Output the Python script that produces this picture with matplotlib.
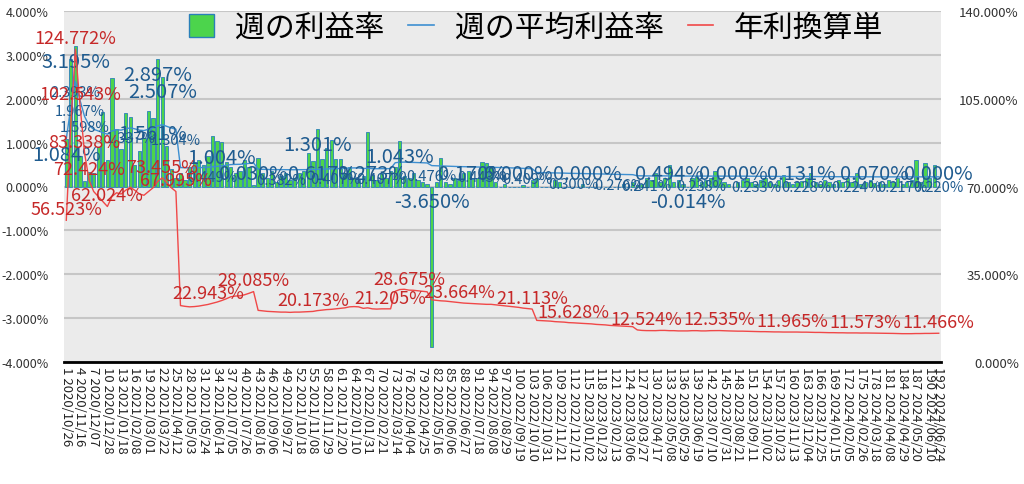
import datetime
import matplotlib
matplotlib.use("Agg")
import matplotlib.pyplot as plt
from matplotlib.patches import Patch
from matplotlib.lines import Line2D

plt.rcParams['font.family'] = ['Noto Sans CJK JP', 'DejaVu Sans']

# weekly profit rate (%), weeks 1..192
weekly = [
    1.084, 2.900, 3.195, 0.690, 0.120, 0.340, 0.300, 0.900, 1.700, 0.600,
    2.470, 1.300, 0.850, 1.670, 1.580, 0.500, 0.800, 1.100, 1.720, 1.561,
    2.897, 2.507, 0.920, 0.400, 0.200, 0.300, 0.150, 0.450, 0.550, 0.600,
    0.500, 0.700, 1.150, 1.030, 1.004, 0.550, 0.450, 0.300, 0.350, 0.600,
    0.450, 0.030, 0.650, 0.300, 0.200, 0.350, 0.100, 0.250, 0.300, 0.150,
    0.200, 0.300, 0.350, 0.770, 0.580, 1.301, 0.617, 0.880, 1.070, 0.620,
    0.620, 0.300, 0.450, 0.200, 0.150, 0.250, 1.240, 0.273, 0.150, 0.300,
    0.200, 0.350, 0.450, 1.043, 0.250, 0.200, 0.300, 0.150, 0.100, 0.050,
    -3.650, 0.100, 0.640, 0.100, 0.050, 0.200, 0.150, 0.300, 0.350, 0.170,
    0.200, 0.560, 0.530, 0.470, 0.100, 0.000, 0.050, 0.000, 0.000, 0.000,
    0.040, 0.000, 0.150, 0.200, 0.000, 0.000, 0.000, 0.150, 0.100, 0.000,
    0.000, 0.000, 0.000, 0.050, 0.000, 0.000, 0.000, 0.000, 0.000, 0.000,
    0.000, 0.000, 0.050, 0.000, 0.100, 0.030, 0.050, 0.200, 0.150, 0.300,
    0.100, 0.200, 0.494, 0.100, 0.150, 0.050, -0.014, 0.200, 0.250, 0.100,
    0.150, 0.200, 0.350, 0.200, 0.100, 0.050, 0.000, 0.100, 0.150, 0.200,
    0.100, 0.050, 0.150, 0.200, 0.100, 0.050, 0.150, 0.270, 0.100, 0.050,
    0.100, 0.131, 0.200, 0.310, 0.100, 0.050, 0.150, 0.100, 0.050, 0.150,
    0.100, 0.200, 0.100, 0.300, 0.050, 0.100, 0.150, 0.070, 0.100, 0.050,
    0.150, 0.100, 0.200, 0.050, 0.100, 0.150, 0.600, 0.100, 0.540, 0.200,
    0.480, 0.000,
]

# average weekly profit rate (%)
avg = [
    1.084, 1.820, 2.393, 1.967, 1.598, 1.389, 1.304, 1.266, 1.227, 1.190,
    1.266, 1.295, 1.285, 1.314, 1.337, 1.314, 1.285, 1.275, 1.304, 1.333,
    1.381, 1.409, 1.371, 1.333, 1.304, 0.432, 0.426, 0.422, 0.424, 0.428,
    0.433, 0.440, 0.449, 0.458, 0.470, 0.483, 0.499, 0.504, 0.506, 0.514,
    0.526, 0.539, 0.395, 0.391, 0.387, 0.385, 0.384, 0.382, 0.382, 0.380,
    0.382, 0.382, 0.384, 0.386, 0.387, 0.393, 0.397, 0.401, 0.403, 0.407,
    0.410, 0.414, 0.422, 0.424, 0.422, 0.410, 0.414, 0.407, 0.405, 0.407,
    0.407, 0.407, 0.541, 0.554, 0.556, 0.550, 0.549, 0.545, 0.541, 0.537,
    0.476, 0.472, 0.468, 0.466, 0.462, 0.458, 0.454, 0.451, 0.449, 0.447,
    0.445, 0.443, 0.441, 0.441, 0.437, 0.433, 0.430, 0.426, 0.422, 0.418,
    0.412, 0.409, 0.405, 0.318, 0.316, 0.315, 0.313, 0.309, 0.307, 0.305,
    0.301, 0.300, 0.297, 0.295, 0.293, 0.292, 0.288, 0.286, 0.284, 0.280,
    0.278, 0.276, 0.274, 0.272, 0.270, 0.245, 0.242, 0.241, 0.240, 0.240,
    0.242, 0.242, 0.240, 0.240, 0.238, 0.238, 0.238, 0.240, 0.240, 0.238,
    0.238, 0.240, 0.240, 0.240, 0.239, 0.238, 0.237, 0.236, 0.236, 0.235,
    0.234, 0.233, 0.232, 0.232, 0.231, 0.230, 0.230, 0.229, 0.229, 0.229,
    0.229, 0.228, 0.228, 0.227, 0.226, 0.226, 0.225, 0.224, 0.224, 0.223,
    0.223, 0.222, 0.224, 0.224, 0.223, 0.222, 0.221, 0.220, 0.220, 0.219,
    0.219, 0.219, 0.218, 0.217, 0.217, 0.217, 0.218, 0.218, 0.219, 0.219,
    0.220, 0.220,
]

# annualised (simple) rate (%), right axis
annual = [
    56.523, 95.000, 124.772, 102.543, 83.338, 72.424, 68.000, 66.000, 64.000, 62.024,
    66.000, 67.500, 67.000, 68.500, 69.700, 68.500, 67.000, 66.500, 68.000, 69.500,
    72.000, 73.455, 71.500, 69.500, 67.995, 22.500, 22.200, 22.000, 22.100, 22.300,
    22.600, 22.943, 23.400, 23.900, 24.500, 25.200, 26.000, 26.300, 26.400, 26.800,
    27.400, 28.085, 20.600, 20.400, 20.200, 20.100, 20.000, 19.900, 19.900, 19.800,
    19.900, 19.900, 20.000, 20.100, 20.173, 20.500, 20.700, 20.900, 21.000, 21.200,
    21.400, 21.600, 22.000, 22.100, 22.000, 21.400, 21.600, 21.200, 21.100, 21.200,
    21.200, 21.205, 28.200, 28.900, 29.000, 28.675, 28.600, 28.400, 28.200, 28.000,
    24.800, 24.600, 24.400, 24.300, 24.100, 23.900, 23.664, 23.500, 23.400, 23.300,
    23.200, 23.100, 23.000, 23.000, 22.800, 22.600, 22.400, 22.200, 22.000, 21.800,
    21.500, 21.300, 21.113, 16.600, 16.500, 16.400, 16.300, 16.100, 16.000, 15.900,
    15.700, 15.628, 15.500, 15.400, 15.300, 15.200, 15.000, 14.900, 14.800, 14.600,
    14.500, 14.400, 14.300, 14.200, 14.100, 12.800, 12.600, 12.524, 12.500, 12.500,
    12.600, 12.600, 12.500, 12.500, 12.400, 12.400, 12.400, 12.500, 12.500, 12.400,
    12.400, 12.500, 12.500, 12.535, 12.450, 12.400, 12.350, 12.300, 12.300, 12.250,
    12.200, 12.150, 12.100, 12.100, 12.050, 12.000, 12.000, 11.950, 11.950, 11.965,
    11.950, 11.900, 11.900, 11.850, 11.800, 11.800, 11.750, 11.700, 11.700, 11.650,
    11.650, 11.600, 11.600, 11.600, 11.550, 11.573, 11.550, 11.500, 11.500, 11.450,
    11.450, 11.400, 11.350, 11.300, 11.300, 11.300, 11.350, 11.350, 11.400, 11.400,
    11.450, 11.466,
]

weeks = list(range(1, len(weekly) + 1))
start = datetime.date(2020, 10, 26)
tick_weeks = list(range(1, 191, 3)) + [192]
tick_labels = []
for w in tick_weeks:
    d = start + datetime.timedelta(days=7 * (w - 1))
    tick_labels.append("%d %s" % (w, d.strftime("%Y/%m/%d")))

# weeks whose value labels are visible
bar_label_weeks = [1, 3, 20, 21, 22, 35, 42, 56, 57, 68, 74, 81, 90, 100, 115,
                   133, 137, 147, 162, 178, 192]
avg_label_weeks = [3, 4, 5, 15, 25, 33, 48, 60, 70, 81, 92, 102, 112, 122, 128,
                   140, 152, 163, 174, 184, 192]
annual_label_weeks = [1, 3, 4, 5, 6, 10, 22, 25, 32, 42, 55, 72, 76, 87, 103,
                      112, 128, 144, 160, 176, 192]

bar_green = '#4cd44c'
bar_edge = '#2a80b9'
avg_blue = '#3d8fd1'
label_blue = '#1f5b8f'
red_line = '#f04848'
red_text = '#c62828'

fig = plt.figure(figsize=(10.24, 4.85), dpi=100)
ax = fig.add_axes([64 / 1024, 1 - 363 / 485, 877 / 1024, 351 / 485])
ax.set_facecolor('#ebebeb')

ax.bar(weeks, weekly, width=0.72, color=bar_green, edgecolor=bar_edge,
       linewidth=0.6, zorder=2)
ax.plot(weeks, avg, color=avg_blue, lw=1.0, zorder=3)

ax.set_xlim(0.5, 192.5)
ax.set_ylim(-4, 4)
ax.set_yticks([-4, -3, -2, -1, 0, 1, 2, 3, 4])
ax.set_yticklabels(["%.3f%%" % v for v in [-4, -3, -2, -1, 0, 1, 2, 3, 4]])
ax.yaxis.grid(True, color='#c6c6c6', lw=1.5)
ax.set_axisbelow(True)
ax.set_xticks(tick_weeks)
ax.set_xticklabels(tick_labels, rotation=270, fontsize=9.5, color='#222222')
ax.tick_params(axis='x', length=0, pad=3)
ax.tick_params(axis='y', length=0, pad=11, labelsize=9, labelcolor='#333333')
for s in ['top', 'left', 'right']:
    ax.spines[s].set_visible(False)
ax.spines['bottom'].set_color('black')
ax.spines['bottom'].set_linewidth(2)

ax2 = ax.twinx()
ax2.plot(weeks, annual, color=red_line, lw=1.0, zorder=4)
ax2.set_ylim(0, 140)
ax2.set_yticks([0, 35, 70, 105, 140])
ax2.set_yticklabels(["%.3f%%" % v for v in [0, 35, 70, 105, 140]])
ax2.tick_params(axis='y', length=0, pad=56, labelsize=9.5, labelcolor='#333333')
for tl in ax2.get_yticklabels():
    tl.set_ha('right')
for s in ax2.spines.values():
    s.set_visible(False)

# labels for weekly bars
for w in bar_label_weeks:
    v = weekly[w - 1]
    if v < 0:
        xy, dy = (w, 0), -11
    elif v * 43.7 >= 28:
        xy, dy = (w, v), -11
    else:
        xy, dy = (w, 0), 9.5
    ax.annotate("%.3f%%" % v, xy=xy, xytext=(0, dy), textcoords='offset points',
                ha='center', va='center', fontsize=14.5, color=label_blue, zorder=6)

# labels for average line
for w in avg_label_weeks:
    v = avg[w - 1]
    ax.annotate("%.3f%%" % v, xy=(w, v), xytext=(0, -7.5), textcoords='offset points',
                ha='center', va='center', fontsize=10.5, color=label_blue, zorder=6)

# labels for annualised line
for w in annual_label_weeks:
    v = annual[w - 1]
    ax2.annotate("%.3f%%" % v, xy=(w, v), xytext=(0, 8), textcoords='offset points',
                 ha='center', va='center', fontsize=13, color=red_text, zorder=6)

handles = [
    Patch(facecolor=bar_green, edgecolor=bar_edge, linewidth=1),
    Line2D([0], [0], color=avg_blue, lw=1.2),
    Line2D([0], [0], color=red_line, lw=1.2),
]
fig.legend(handles, ['週の利益率', '週の平均利益率', '年利換算単'],
           loc='center', bbox_to_anchor=(536 / 1024, 1 - 28 / 485), ncol=3,
           frameon=False, fontsize=21.5, handlelength=0.85, handleheight=0.8,
           handletextpad=0.7, columnspacing=0.8)

fig.savefig("out.png", dpi=100)
